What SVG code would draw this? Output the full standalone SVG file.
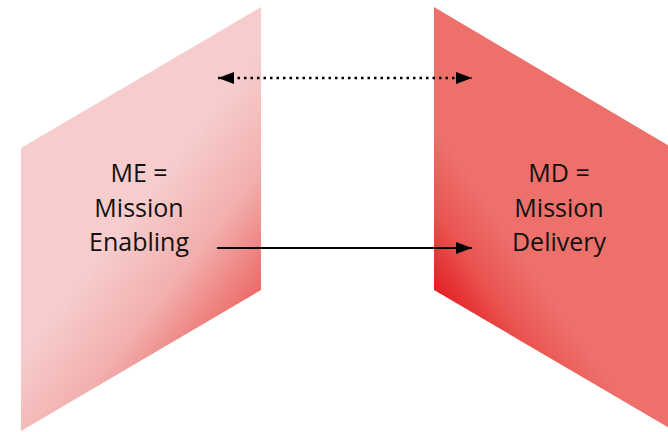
<svg xmlns="http://www.w3.org/2000/svg" width="668" height="432" viewBox="0 0 668 432">
<style>
.lbl{font-family:"Open Sans","Liberation Sans",sans-serif;font-size:25px;fill:#111;text-anchor:middle}
.conn{stroke:#000;fill:none}
</style>
<defs>
<linearGradient id="gl" gradientUnits="userSpaceOnUse" x1="265" y1="285" x2="150" y2="195">
<stop offset="0" stop-color="#EC6A66"/>
<stop offset="0.5" stop-color="#F2AFAE"/>
<stop offset="1" stop-color="#F6CCCC"/>
</linearGradient>
<linearGradient id="gr" gradientUnits="userSpaceOnUse" x1="434" y1="290" x2="510" y2="238">
<stop offset="0" stop-color="#E31E24"/>
<stop offset="0.5" stop-color="#EA5451"/>
<stop offset="1" stop-color="#ED706B"/>
</linearGradient>
<marker id="ah" viewBox="0 0 16 12" refX="16" refY="6" markerWidth="16" markerHeight="12" markerUnits="userSpaceOnUse" orient="auto-start-reverse">
<path d="M0,0 L16,6 L0,12 Z" fill="#000"/>
</marker>
</defs>
<g id="me">
<polygon points="21,148 261,7 261,290 21,431" fill="url(#gl)"/>
<text class="lbl" x="139" y="182">ME =</text>
<text class="lbl" x="139" y="217">Mission</text>
<text class="lbl" x="139" y="251">Enabling</text>
</g>
<g id="md">
<polygon points="434,7 676,150 676,432 434,290" fill="url(#gr)"/>
<text class="lbl" x="559" y="182">MD =</text>
<text class="lbl" x="559" y="217">Mission</text>
<text class="lbl" x="559" y="251">Delivery</text>
</g>
<g id="connectors">
<line class="conn" x1="218" y1="78" x2="472" y2="78" stroke-width="2.5" stroke-dasharray="2.5 4" marker-start="url(#ah)" marker-end="url(#ah)"/>
<line class="conn" x1="217" y1="248" x2="472" y2="248" stroke-width="2" marker-end="url(#ah)"/>
</g>
</svg>
